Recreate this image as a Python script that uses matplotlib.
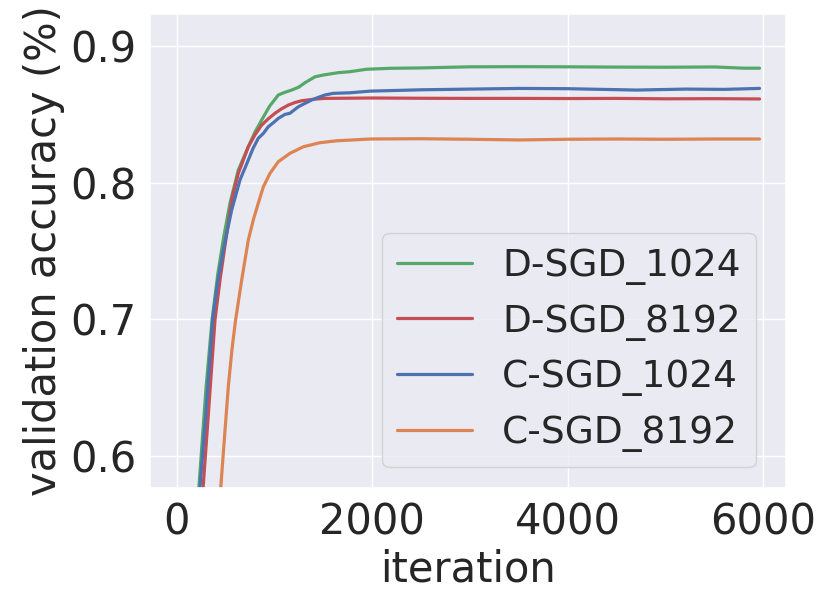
import matplotlib
matplotlib.use("Agg")
import matplotlib.pyplot as plt
import seaborn as sns

# values
dsgd_1024_iter = [215, 260, 300, 362, 420, 480, 545, 630, 732, 800, 869, 950, 1039, 1100, 1176,
                  1250, 1312, 1414, 1499, 1650, 1769, 1939, 2178, 2500, 3000, 3500, 4000, 4500,
                  5000, 5500, 5800, 5960]
dsgd_1024_acc = [0.565, 0.610, 0.650, 0.700, 0.733, 0.760, 0.785, 0.8093, 0.8263, 0.837, 0.8459,
                 0.856, 0.8642, 0.866, 0.8678, 0.870, 0.8732, 0.8775, 0.8788, 0.8805, 0.8812,
                 0.883, 0.8837, 0.8840, 0.8848, 0.8849, 0.8848, 0.8846, 0.8845, 0.8847, 0.8838,
                 0.8838]

dsgd_8192_iter = [258, 323, 392, 445, 500, 562, 630, 732, 800, 869, 940, 1005, 1070, 1141, 1210,
                  1278, 1414, 1516, 2000, 2500, 3000, 3500, 4000, 4500, 5000, 5500, 5960]
dsgd_8192_acc = [0.565, 0.630, 0.700, 0.730, 0.757, 0.7873, 0.8069, 0.8263, 0.835, 0.8422, 0.847,
                 0.8508, 0.854, 0.8568, 0.8587, 0.860, 0.8612, 0.8617, 0.862, 0.8618, 0.8617,
                 0.8617, 0.8616, 0.8617, 0.8614, 0.8615, 0.8613]

csgd_1024_iter = [225, 300, 368, 420, 480, 562, 647, 732, 780, 834, 886, 937, 990, 1039, 1107,
                  1158, 1244, 1310, 1380, 1450, 1516, 1600, 1769, 1974, 2500, 3000, 3500, 4000,
                  4700, 5200, 5600, 5960]
csgd_1024_acc = [0.565, 0.633, 0.700, 0.728, 0.752, 0.780, 0.802, 0.8166, 0.825, 0.8325, 0.8361,
                 0.841, 0.844, 0.8471, 0.850, 0.8508, 0.8556, 0.858, 0.8605, 0.8625, 0.8642,
                 0.8654, 0.8658, 0.867, 0.868, 0.8685, 0.869, 0.8688, 0.8678, 0.8685, 0.8683,
                 0.869]

csgd_8192_iter = [438, 450, 490, 528, 565, 603, 665, 732, 783, 834, 886, 954, 1039, 1158, 1294,
                  1465, 1636, 1772, 1977, 2500, 3000, 3500, 4000, 4500, 5000, 5500, 5960]
csgd_8192_acc = [0.565, 0.5765, 0.615, 0.651, 0.678, 0.700, 0.729, 0.758, 0.7727, 0.785, 0.797,
                 0.8069, 0.8154, 0.8215, 0.8263, 0.8293, 0.8307, 0.8312, 0.832, 0.8322, 0.8318,
                 0.8313, 0.8318, 0.832, 0.8318, 0.832, 0.832]

sns.set_theme(style="darkgrid")
pal = sns.color_palette("deep")

fig = plt.figure(figsize=(8.31, 6.11), dpi=100)
ax = fig.add_axes([0.1805, 0.2013, 0.7653, 0.7757])

ax.plot(dsgd_1024_iter, dsgd_1024_acc, color=pal[2], lw=2.3, label="D-SGD_1024")
ax.plot(dsgd_8192_iter, dsgd_8192_acc, color=pal[3], lw=2.3, label="D-SGD_8192")
ax.plot(csgd_1024_iter, csgd_1024_acc, color=pal[0], lw=2.3, label="C-SGD_1024")
ax.plot(csgd_8192_iter, csgd_8192_acc, color=pal[1], lw=2.3, label="C-SGD_8192")

ax.set_xlim(-273, 6230)
ax.set_ylim(0.5767, 0.9234)
ax.set_xticks([0, 2000, 4000, 6000])
ax.set_yticks([0.6, 0.7, 0.8, 0.9])
ax.tick_params(labelsize=30)

ax.set_xlabel("iteration", fontsize=30)
ax.set_ylabel("validation accuracy (%)", fontsize=30)

ax.legend(loc="lower right", bbox_to_anchor=(0.9528, 0.0443), borderaxespad=0, fontsize=27)

fig.savefig("out.png", dpi=100)
plt.close(fig)
